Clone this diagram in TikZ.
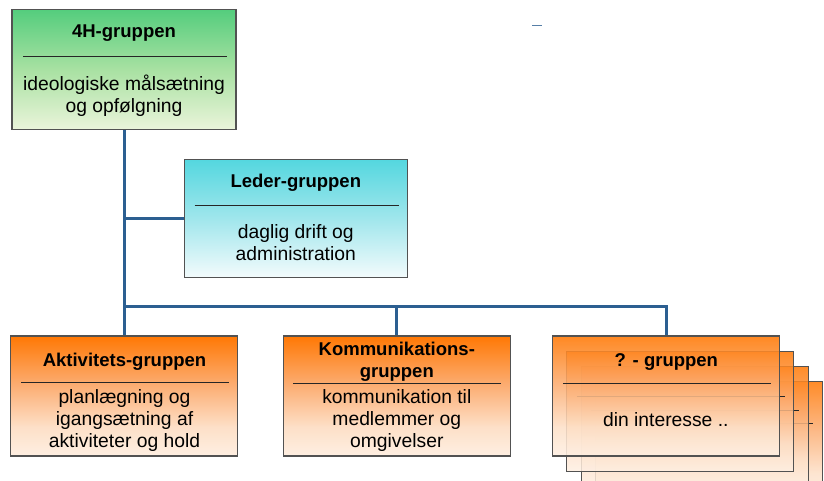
\documentclass[tikz,border=0pt]{standalone}
\usepackage{fontspec}
\setmainfont{Liberation Sans}
\usepackage{tikz}
\definecolor{grtop}{RGB}{84,205,125}
\definecolor{grmid}{RGB}{168,225,162}
\definecolor{grbot}{RGB}{234,244,218}
\definecolor{cytop}{RGB}{84,215,223}
\definecolor{cymid}{RGB}{160,230,236}
\definecolor{cybot}{RGB}{243,251,252}
\definecolor{ortop}{RGB}{255,120,4}
\definecolor{ormid}{RGB}{252,172,112}
\definecolor{orlow}{RGB}{253,224,200}
\definecolor{orbot}{RGB}{254,239,226}
\definecolor{linkblue}{RGB}{44,95,145}
\pgfdeclareverticalshading{grsh}{100bp}{color(0bp)=(grbot); color(25bp)=(grbot); color(50bp)=(grmid); color(75bp)=(grtop); color(100bp)=(grtop)}
\pgfdeclareverticalshading{cysh}{100bp}{color(0bp)=(cybot); color(25bp)=(cybot); color(50bp)=(cymid); color(75bp)=(cytop); color(100bp)=(cytop)}
\pgfdeclareverticalshading{orsh}{100bp}{color(0bp)=(orbot); color(25bp)=(orbot); color(37bp)=(orlow); color(55bp)=(ormid); color(75bp)=(ortop); color(100bp)=(ortop)}
\tikzset{
  grp/.style={draw=black!68, line width=1.3pt, inner sep=0pt, minimum width=227pt, minimum height=120pt},
  grfill/.style={shading=grsh},
  cyfill/.style={shading=cysh},
  orfill/.style={shading=orsh},
  ttl/.style={font=\fontsize{18.5}{22}\selectfont\bfseries, align=center, inner sep=0pt},
  txt/.style={font=\fontsize{19.3}{22}\selectfont, align=center, inner sep=0pt},
  sep/.style={draw=black!85, line width=0.9pt},
  link/.style={draw=linkblue, line width=3pt},
}
\begin{document}
\begin{tikzpicture}[x=1pt,y=-1pt]
\useasboundingbox (0,0) rectangle (824,481);
\draw[linkblue!80, line width=1.6pt] (532,25.5) -- (541.5,25.5);

\node[grp, grfill, minimum width=224pt] (hh) at (124,69.3) {};
\draw[sep] (23,56.5) -- (226.5,56.5);
\node[ttl] (hht) at (124,33) {4H-gruppen};
\node[txt] (hhb) at (124,95.5) {ideologiske målsætning\\og opfølgning};

\node[grp, cyfill, minimum width=223pt, minimum height=118pt] (led) at (295.8,218.5) {};
\draw[sep] (194.5,205) -- (399,205);
\node[ttl] (ledt) at (295.8,182.5) {Leder-gruppen};
\node[txt] (ledb) at (295.8,242.5) {daglig drift og\\administration};

\node[grp, orfill] (akt) at (124,396) {};
\draw[sep] (21,382.7) -- (229,382.7);
\node[ttl] (aktt) at (124.5,361.5) {Aktivitets-gruppen};
\node[txt] (aktb) at (124.5,421) {planlægning og\\igangsætning af\\aktiviteter og hold};

\node[grp, orfill] (kom) at (396.8,396) {};
\draw[sep] (293.3,383) -- (500.5,383);
\node[ttl] (komt) at (396.8,361.5) {Kommunikations-\\gruppen};
\node[txt] (komb) at (396.8,421) {kommunikation til\\medlemmer og\\omgivelser};

\node[grp, orfill, fill opacity=0.85] (spd) at (708.8,441.7) {};
\draw[sep] (604,423) -- (813,423);
\node[grp, orfill, fill opacity=0.85] (spc) at (694.8,426.7) {};
\draw[sep] (591,410) -- (799,410);
\node[grp, orfill, fill opacity=0.85] (spb) at (680.2,411.7) {};
\draw[sep] (577,396.7) -- (785,396.7);
\node[grp, orfill, fill opacity=0.88] (spg) at (666.3,396) {};
\draw[sep] (563,383.3) -- (771,383.3);
\node[ttl] (spgt) at (666.3,361.5) {? - gruppen};
\node[txt] (spgb) at (665.8,420) {din interesse ..};

\coordinate (bus) at (124,306.5);
\draw[link] (hh.south) -- (akt.north);
\draw[link] (hh.south |- led.west) -- (led.west);
\draw[link] (bus) -| (kom.north);
\draw[link] (bus) -| (spg.north);
\end{tikzpicture}
\end{document}
